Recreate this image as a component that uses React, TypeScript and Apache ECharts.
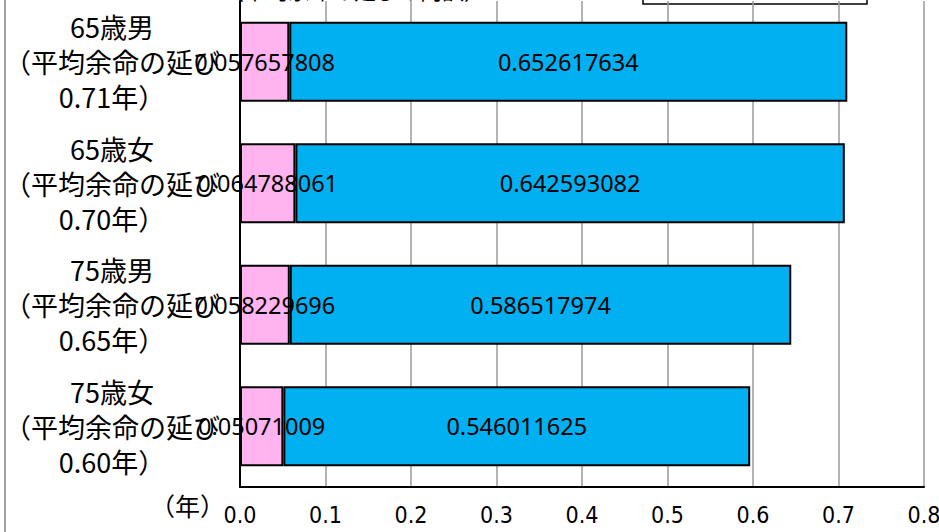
import React, { useEffect, useRef } from "react";
import * as echarts from "echarts";

const groups = ["65歳男", "65歳女", "75歳男", "75歳女"];
const lifeGains = ["0.71", "0.70", "0.65", "0.60"];
const unhealthyGain = [0.057657808, 0.064788061, 0.058229696, 0.05071009];
const healthyGain = [0.652617634, 0.642593082, 0.586517974, 0.546011625];
const xTicks = [0, 0.1, 0.2, 0.3, 0.4, 0.5, 0.6, 0.7, 0.8];

const categories = groups.map(
  (g, i) => `${g}\n（平均余命の延び\n${lifeGains[i]}年）`
);

export default function App() {
  const ref = useRef<HTMLDivElement>(null);
  useEffect(() => {
    if (!ref.current) return;
    const chart = echarts.init(ref.current, undefined, { renderer: "svg" });
    const jp = "'Noto Sans CJK JP', 'Noto Sans', sans-serif";
    chart.setOption({
      animation: false,
      backgroundColor: "#ffffff",
      title: [
        {
          text: "（年）",
          left: 150,
          top: 492,
          padding: 0,
          textStyle: {
            fontSize: 25,
            lineHeight: 26,
            fontWeight: "normal",
            fontFamily: jp,
            color: "#000",
          },
        },
        {
          text: "（平均余命の延びの内訳）",
          left: 222,
          top: -22,
          padding: 0,
          textStyle: { fontSize: 22, fontWeight: "normal", fontFamily: jp, color: "#000" },
        },
      ],
      grid: {
        left: 240,
        right: 15,
        top: 1,
        bottom: 45,
        containLabel: false,
        outerBoundsMode: "none",
      },
      xAxis: {
        type: "value",
        min: xTicks[0],
        max: xTicks[xTicks.length - 1],
        interval: 0.1,
        axisLine: { show: true, lineStyle: { color: "#000", width: 2 } },
        axisTick: { show: false },
        splitLine: { show: true, lineStyle: { color: "#9a9a9a", width: 1.5 } },
        axisLabel: {
          margin: 16,
          color: "#000",
          fontSize: 23,
          fontFamily: "'Liberation Sans Narrow', 'DejaVu Sans Condensed', sans-serif",
          formatter: (v: number) => v.toFixed(1),
        },
      },
      yAxis: {
        type: "category",
        inverse: true,
        data: categories,
        axisLine: { show: true, lineStyle: { color: "#000", width: 2 } },
        axisTick: { show: false },
        axisLabel: {
          align: "center",
          margin: 128,
          color: "#000",
          fontSize: 27,
          lineHeight: 35,
          fontFamily: jp,
        },
      },
      series: [
        {
          name: "不健康な期間の延び",
          type: "bar",
          stack: "total",
          z: 3,
          barWidth: 80,
          data: unhealthyGain,
          itemStyle: { color: "#FFB4F0", borderColor: "#000", borderWidth: 2 },
          label: {
            show: true,
            position: "inside",
            color: "#000",
            fontSize: 23.5,
            fontFamily: "'Noto Sans', sans-serif",
            formatter: (p: any) => String(p.value),
          },
        },
        {
          name: "健康寿命の延び",
          type: "bar",
          stack: "total",
          z: 2,
          barWidth: 80,
          data: healthyGain,
          itemStyle: { color: "#00B0F0", borderColor: "#000", borderWidth: 2 },
          label: {
            show: true,
            position: "inside",
            color: "#000",
            fontSize: 23.5,
            fontFamily: "'Noto Sans', sans-serif",
            formatter: (p: any) => String(p.value),
          },
        },
      ],
      graphic: [
        {
          type: "line",
          shape: { x1: 5, y1: 0, x2: 5, y2: 532 },
          style: { stroke: "#a0a0a0", lineWidth: 2 },
        },
        {
          type: "rect",
          shape: { x: 643, y: -30, width: 224, height: 34 },
          style: { fill: "#fff", stroke: "#000", lineWidth: 1.5 },
        },
      ],
    });
    return () => chart.dispose();
  }, []);
  return (
    <div
      ref={ref}
      style={{ position: "fixed", left: 0, top: 0, width: 939, height: 532 }}
    />
  );
}
